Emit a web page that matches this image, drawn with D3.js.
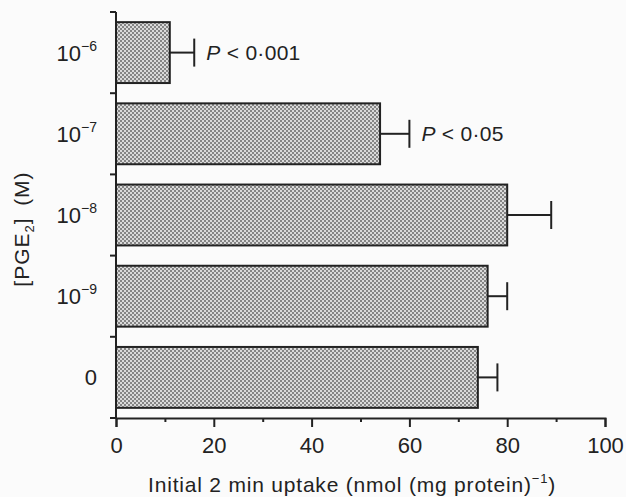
<!DOCTYPE html>
<html>
<head>
<meta charset="utf-8">
<script src="https://cdn.jsdelivr.net/npm/d3@7"></script>
<style>
  body { margin: 0; background: #fff; }
  text { font-family: "Liberation Sans", Arial, sans-serif; fill: #222; }
</style>
</head>
<body>
<div id="chart"></div>
<script>
// data
var concentrations = ["10-6", "10-7", "10-8", "10-9", "0"];
var exponents = ["\u22126", "\u22127", "\u22128", "\u22129", null];
var uptake = [11, 54, 80, 76, 74];
var sem = [5, 6, 9, 4, 4];
var pLabels = ["P < 0\u00b7001", "P < 0\u00b705", null, null, null];
var xTicks = [0, 20, 40, 60, 80, 100];
var xMinorTicks = [10, 30, 50, 70, 90];

const width = 626
const height = 497
const margin = {left: 116, right: 21, top: 12, bottom: 79}

var svg = d3.select('#chart').append('svg')
  .attr('width', width)
  .attr('height', height);

svg.append('rect')
  .attr('width', width)
  .attr('height', height)
  .attr('fill', '#fbfbfb');

// halftone look of the printed bars
var defs = svg.append('defs');
var pat = defs.append('pattern')
  .attr('id', 'dots')
  .attr('width', 4)
  .attr('height', 4)
  .attr('patternUnits', 'userSpaceOnUse');
pat.append('rect').attr('width', 4).attr('height', 4).attr('fill', '#dadada');
pat.append('rect').attr('width', 2).attr('height', 2).attr('fill', '#858585');
pat.append('rect').attr('x', 2).attr('y', 2).attr('width', 2).attr('height', 2).attr('fill', '#858585');

var x = d3.scaleLinear()
  .domain([0, 100])
  .range([margin.left, width - margin.right]);

var y = d3.scaleBand()
  .domain(concentrations)
  .range([margin.top, height - margin.bottom])
  .paddingInner(0.25)
  .paddingOuter(0.125);

// bars
var bars = svg.append('g');
concentrations.forEach(function(c, i) {
  bars.append('rect')
    .attr('x', x(0))
    .attr('y', y(c))
    .attr('width', x(uptake[i]) - x(0))
    .attr('height', y.bandwidth())
    .attr('fill', 'url(#dots)')
    .attr('stroke', '#222')
    .attr('stroke-width', 2);

  // error bars
  var cy = y(c) + y.bandwidth() / 2;
  bars.append('line')
    .attr('x1', x(uptake[i])).attr('x2', x(uptake[i] + sem[i]))
    .attr('y1', cy).attr('y2', cy)
    .attr('stroke', '#222').attr('stroke-width', 2);
  bars.append('line')
    .attr('x1', x(uptake[i] + sem[i])).attr('x2', x(uptake[i] + sem[i]))
    .attr('y1', cy - 14).attr('y2', cy + 14)
    .attr('stroke', '#222').attr('stroke-width', 2);

  if (pLabels[i]) {
    var t = bars.append('text')
      .attr('x', x(uptake[i] + sem[i]) + 12)
      .attr('y', cy + 7)
      .style('font-size', '21px')
      .style('letter-spacing', '0.3px');
    t.append('tspan').style('font-style', 'italic').text('P');
    t.append('tspan').text(pLabels[i].slice(1));
  }
});

// x axis
var xAxis = d3.axisBottom(x)
  .tickValues(xTicks)
  .tickSize(9)
  .tickPadding(10)
  .tickFormat(d3.format('d'));

var gx = svg.append('g')
  .attr('transform', `translate(0,${height - margin.bottom})`)
  .call(xAxis);
gx.select('.domain').attr('stroke', '#222').attr('stroke-width', 2);
gx.selectAll('.tick line').attr('stroke', '#222').attr('stroke-width', 2);
gx.selectAll('.tick text').style('font-size', '22px').style('fill', '#222');

svg.append('g')
  .attr('transform', `translate(0,${height - margin.bottom})`)
  .call(d3.axisBottom(x).tickValues(xMinorTicks).tickSize(4).tickFormat(''))
  .call(g => g.select('.domain').remove())
  .selectAll('.tick line').attr('stroke', '#222').attr('stroke-width', 2);

// y axis: ticks at band boundaries
var yBounds = d3.range(concentrations.length + 1).map(function(i) {
  return margin.top + i * y.step();
});
var gy = svg.append('g');
gy.append('line')
  .attr('x1', x(0)).attr('x2', x(0))
  .attr('y1', margin.top).attr('y2', height - margin.bottom)
  .attr('stroke', '#222').attr('stroke-width', 2);
yBounds.forEach(function(b) {
  gy.append('line')
    .attr('x1', x(0) - 6).attr('x2', x(0))
    .attr('y1', b).attr('y2', b)
    .attr('stroke', '#222').attr('stroke-width', 2);
});

concentrations.forEach(function(c, i) {
  var cy = y(c) + y.bandwidth() / 2;
  if (exponents[i]) {
    var t = gy.append('text')
      .attr('x', x(0) - 19)
      .attr('y', cy + 8)
      .attr('text-anchor', 'end')
      .style('font-size', '22px');
    t.append('tspan').text('10');
    t.append('tspan').attr('dy', -10).style('font-size', '14px').text(exponents[i]);
  } else {
    gy.append('text')
      .attr('x', x(0) - 19)
      .attr('y', cy + 8)
      .attr('text-anchor', 'end')
      .style('font-size', '22px')
      .text('0');
  }
});

// axis titles
svg.append('text')
  .attr('x', 352)
  .attr('y', 492)
  .attr('text-anchor', 'middle')
  .style('font-size', '21px')
  .style('letter-spacing', '0.8px')
  .call(function(t) {
    t.append('tspan').text('Initial 2 min uptake (nmol (mg protein)');
    t.append('tspan').attr('dy', -9).style('font-size', '13px').text('\u22121');
    t.append('tspan').attr('dy', 9).text(')');
  });

svg.append('text')
  .attr('transform', 'translate(29,229) rotate(-90)')
  .attr('text-anchor', 'middle')
  .style('font-size', '21px')
  .style('letter-spacing', '1px')
  .call(function(t) {
    t.append('tspan').text('[PGE');
    t.append('tspan').attr('dy', 5).style('font-size', '13px').text('2');
    t.append('tspan').attr('dy', -5).text(']\u2002(M)');
  });
</script>
</body>
</html>
